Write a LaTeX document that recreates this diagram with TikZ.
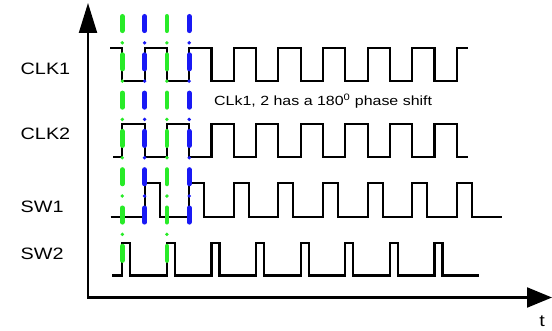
\documentclass[tikz,border=0pt]{standalone}
\usepackage{fontspec}
\setmainfont{Liberation Sans}[FakeStretch=1.2]
\usetikzlibrary{arrows.meta}

\definecolor{markgreen}{RGB}{40,235,40}
\definecolor{markblue}{RGB}{25,25,245}

\begin{document}
\begin{tikzpicture}[
    x=1pt, y=-1pt,
    every node/.style={inner sep=0pt},
    wave/.style={line width=2.1pt, line join=miter},
    axis/.style={line width=2.1pt},
    siglabel/.style={font=\fontsize{16.5}{16.5}\selectfont, anchor=west},
    edgemark/.style={draw=#1, line width=4.8pt, line cap=round,
        dash pattern=on 14.3pt off 24pt,
        preaction={draw=#1, line width=3.8pt, line cap=round,
            dash pattern=on 0pt off 38.3pt, dash phase=11.85pt}}
]
\useasboundingbox (0,0) rectangle (552,331);

% Axes
\coordinate (ytop) at (88,3);
\coordinate (origin) at (88,297.5);
\coordinate (xend) at (552,297.5);
\draw[axis, {Triangle[length=30pt,width=18pt]}-{Triangle[length=25pt,width=20pt]}] (ytop) -- (origin) -- (xend);
\node[font=\fontsize{16.5}{16.5}\selectfont, anchor=base] (tlabel) at (542,326.7) {t};

% Signal names
\node[siglabel] (clk1) at (20.5,69.2) {CLK1};
\node[siglabel] (clk2) at (20.5,134.2) {CLK2};
\node[siglabel] (sw1) at (20.5,207.2) {SW1};
\node[siglabel] (sw2) at (20.5,254.2) {SW2};

% Waveforms
\draw[wave] (110,48.3) \foreach \k in {0,...,7}{
    -- ({122.3+44.6*\k},48.3) -- ++(0,32.4) -- ++(22.3,0) -- ++(0,-32.4)} -- (468,48.3);
\draw[wave] (113.3,156.7) \foreach \k in {0,...,7}{
    -- ({122.3+44.6*\k},156.7) -- ++(0,-32.4) -- ++(22.3,0) -- ++(0,32.4)} -- (468,156.7);
\draw[wave] (110.7,216.7) \foreach \k in {0,...,7}{
    -- ({144.6+44.6*\k},216.7) -- ++(0,-33.4) -- ++(15,0) -- ++(0,33.4)} -- (502,216.7);
\draw[wave] (112.3,275.5) \foreach \k in {0,...,7}{
    -- ({122.3+44.6*\k},275.5) -- ++(0,-32.2) -- ++(8,0) -- ++(0,32.2)} -- (479,275.5);

% Phase note
\node[font=\fontsize{13.3}{13.3}\selectfont, anchor=base west] (note) at (214,105.3)
    {CLk1, 2 has a 180\textsuperscript{0} phase shift};

% Edge markers
\draw[edgemark=markgreen] (122.3,16.4) -- (122.3,260.75);
\draw[edgemark=markgreen] (166.9,16.4) -- (166.9,260.75);
\draw[edgemark=markblue] (144.6,16.4) -- (144.6,222.5);
\draw[edgemark=markblue] (189.2,16.4) -- (189.2,222.5);

\end{tikzpicture}
\end{document}
